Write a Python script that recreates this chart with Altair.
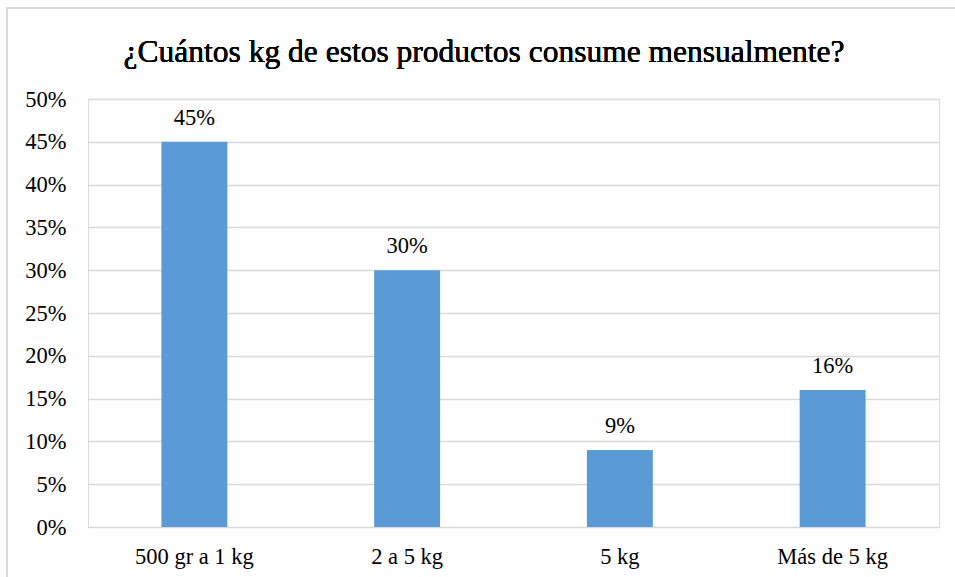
import altair as alt
import pandas as pd

# Monthly consumption survey results
categorias = ["500 gr a 1 kg", "2 a 5 kg", "5 kg", "Más de 5 kg"]
porcentajes = [0.45, 0.30, 0.09, 0.16]
etiquetas = ["45%", "30%", "9%", "16%"]
titulo = "¿Cuántos kg de estos productos consume mensualmente?"

df = pd.DataFrame({"cat": categorias, "val": porcentajes, "lab": etiquetas})

FONT = "Liberation Serif"
LABEL_SIZE = 22.5
W, H = 851, 428

x_enc = alt.X(
    "cat:N",
    sort=categorias,
    scale=alt.Scale(paddingInner=0.69, paddingOuter=0.345),
    axis=alt.Axis(
        title=None, labelAngle=0, ticks=False, domain=False,
        labelFont=FONT, labelFontSize=LABEL_SIZE, labelColor="#000000",
        labelPadding=18,
    ),
)
y_enc = alt.Y(
    "val:Q",
    scale=alt.Scale(domain=[0, 0.5], nice=False),
    axis=alt.Axis(
        title=None, format=".0%", values=[i / 100 for i in range(0, 51, 5)],
        ticks=False, domain=False, gridColor="#D9D9D9", gridWidth=1.3,
        labelFont=FONT, labelFontSize=LABEL_SIZE, labelColor="#000000",
        labelPadding=22,
    ),
)

# light frame around the whole chart
frame = alt.Chart(df).mark_rect(
    fill=None, stroke="#D9D9D9", strokeWidth=1.3
).encode(
    x=alt.value(-81), x2=alt.value(W + 40),
    y=alt.value(-91), y2=alt.value(H + 80),
)

# chart heading, centred over the frame
heading = alt.Chart(df).mark_text(
    font=FONT, fontSize=31.5, color="#000000", baseline="alphabetic", align="center"
).encode(x=alt.value(396), y=alt.value(-37), text=alt.value(titulo))

bars = alt.Chart(df).mark_bar(color="#5B9BD5").encode(x=x_enc, y=y_enc)

labels = alt.Chart(df).mark_text(
    font=FONT, fontSize=LABEL_SIZE, color="#000000", baseline="alphabetic", dy=-17
).encode(x=alt.X("cat:N", sort=categorias), y="val:Q", text="lab:N")

chart = (
    alt.layer(frame, heading, bars, labels)
    .properties(
        width=W, height=H,
        autosize=alt.AutoSizeParams(type="none"),
        padding={"left": 88, "top": 99, "right": 16, "bottom": 50},
    )
    .configure_view(stroke=None)
    .configure(background="#FFFFFF")
)

chart.save("out.html", embed_options={"renderer": "svg", "actions": False})
